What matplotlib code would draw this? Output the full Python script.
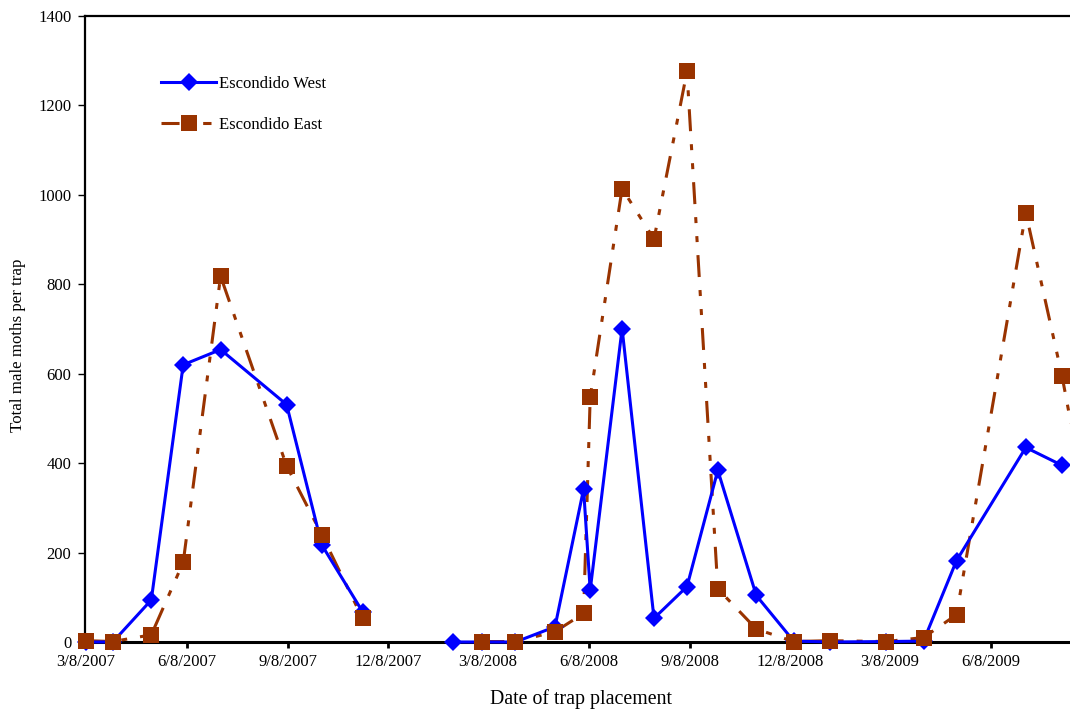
import numpy as np
import pandas as pd
import matplotlib
matplotlib.use("Agg")
import matplotlib.pyplot as plt
from matplotlib.ticker import FixedLocator, FixedFormatter
import matplotlib.dates as mdates

# Trap placement dates (a NaN row separates the 2007 season from 2008)
dates = ["2007-03-09", "2007-04-02", "2007-05-07", "2007-06-05", "2007-07-09",
         "2007-09-07", "2007-10-09", "2007-11-15",
         "2007-12-31",
         "2008-02-05", "2008-03-03", "2008-04-02", "2008-05-08", "2008-06-03",
         "2008-06-09", "2008-07-08", "2008-08-06", "2008-09-05", "2008-10-03",
         "2008-11-07", "2008-12-11", "2009-01-13", "2009-03-05", "2009-04-08",
         "2009-05-08", "2009-07-10", "2009-08-12", "2009-09-15"]

nan = np.nan
west = [0, 0, 94, 620, 654, 531, 217, 68,
        nan,
        0, 0, 0, 34, 342, 116, 701, 53, 124, 384, 104, 2, 0, 1, 2, 182, 435, 395, nan]
east = [3, 1, 16, 178, 818, 394, 240, 53,
        nan,
        nan, 1, 1, 23, 64, 547, 1014, 901, 1276, 119, 29, 1, 3, 1, 10, 61, 960, 594, 150]

series_names = ["Escondido West", "Escondido East"]
y_ticks = [0, 200, 400, 600, 800, 1000, 1200, 1400]
x_tick_labels = ["3/8/2007", "6/8/2007", "9/8/2007", "12/8/2007", "3/8/2008",
                 "6/8/2008", "9/8/2008", "12/8/2008", "3/8/2009", "6/8/2009"]

df = pd.DataFrame({"date": pd.to_datetime(dates), "west": west, "east": east})
x_tick_pos = mdates.date2num(pd.to_datetime(x_tick_labels, format="%m/%d/%Y"))

plt.rcParams["font.family"] = ["Liberation Serif", "DejaVu Serif"]
plt.rcParams["lines.scale_dashes"] = False

W, H = 1070, 713
fig = plt.figure(figsize=(W / 100, H / 100), dpi=100)

# axis spans 3/8/2007 .. 12/8/2009; the right part runs past the figure edge
x0 = pd.Timestamp("2007-03-08")
x1 = pd.Timestamp("2009-12-08")
px_per_day = 1.1
left_px, bottom_px, top_px = 85.3, 642.0, 16.0
width_px = (x1 - x0).days * px_per_day
ax = fig.add_axes([left_px / W, (H - bottom_px) / H, width_px / W, (bottom_px - top_px) / H])

blue = "#0000FF"
brown = "#993300"
east_dash = (0, [15.8, 9.4, 4.3, 9.4, 4.3, 9.4])

l_east, = ax.plot(df["date"], df["east"], color=brown, lw=2.2, linestyle=east_dash,
                  marker="s", markersize=11.5, markeredgewidth=0, zorder=2,
                  clip_on=False, label=series_names[1])
l_west, = ax.plot(df["date"], df["west"], color=blue, lw=2.2, linestyle="-",
                  marker="D", markersize=9.5, markeredgewidth=0, zorder=3,
                  clip_on=False, label=series_names[0])
# East markers drawn again on top so they sit above the West line
ax.plot(df["date"], df["east"], linestyle="none", marker="s", markersize=11.5,
        markeredgewidth=0, color=brown, zorder=4, clip_on=False)

ax.set_xlim(x0, x1)
ax.set_ylim(0, 1400)
ax.set_yticks(y_ticks)

ax.xaxis.set_major_locator(FixedLocator(x_tick_pos))
ax.xaxis.set_major_formatter(FixedFormatter(x_tick_labels))

ax.tick_params(axis="x", direction="out", length=4, width=2, pad=5, labelsize=12)
ax.tick_params(axis="y", direction="out", length=5, width=1, pad=5, labelsize=12)

for s in ("left", "top"):
    ax.spines[s].set_linewidth(1.6)
ax.spines["bottom"].set_linewidth(2.2)
ax.spines["right"].set_visible(False)
for s in ax.spines.values():
    s.set_zorder(1)

leg = ax.legend(handles=[l_west, l_east], loc="upper left",
                bbox_to_anchor=(161 / W, 1 - 75.6 / H), bbox_transform=fig.transFigure,
                frameon=False, fontsize=12, borderpad=0, borderaxespad=0,
                labelspacing=1.5, handlelength=3.3, handletextpad=0.2)
# legend key for the East series: long dash, square, short dash
leg.get_lines()[1].set_linestyle((0, [13, 17, 6, 20]))

fig.text(18 / W, 1 - 345.5 / H, "Total male moths per trap", rotation=90,
         ha="center", va="center", fontsize=12.2)
fig.text(581 / W, 1 - 699 / H, "Date of trap placement", ha="center", va="center",
         fontsize=14.3)

fig.savefig("out.png", dpi=100)
